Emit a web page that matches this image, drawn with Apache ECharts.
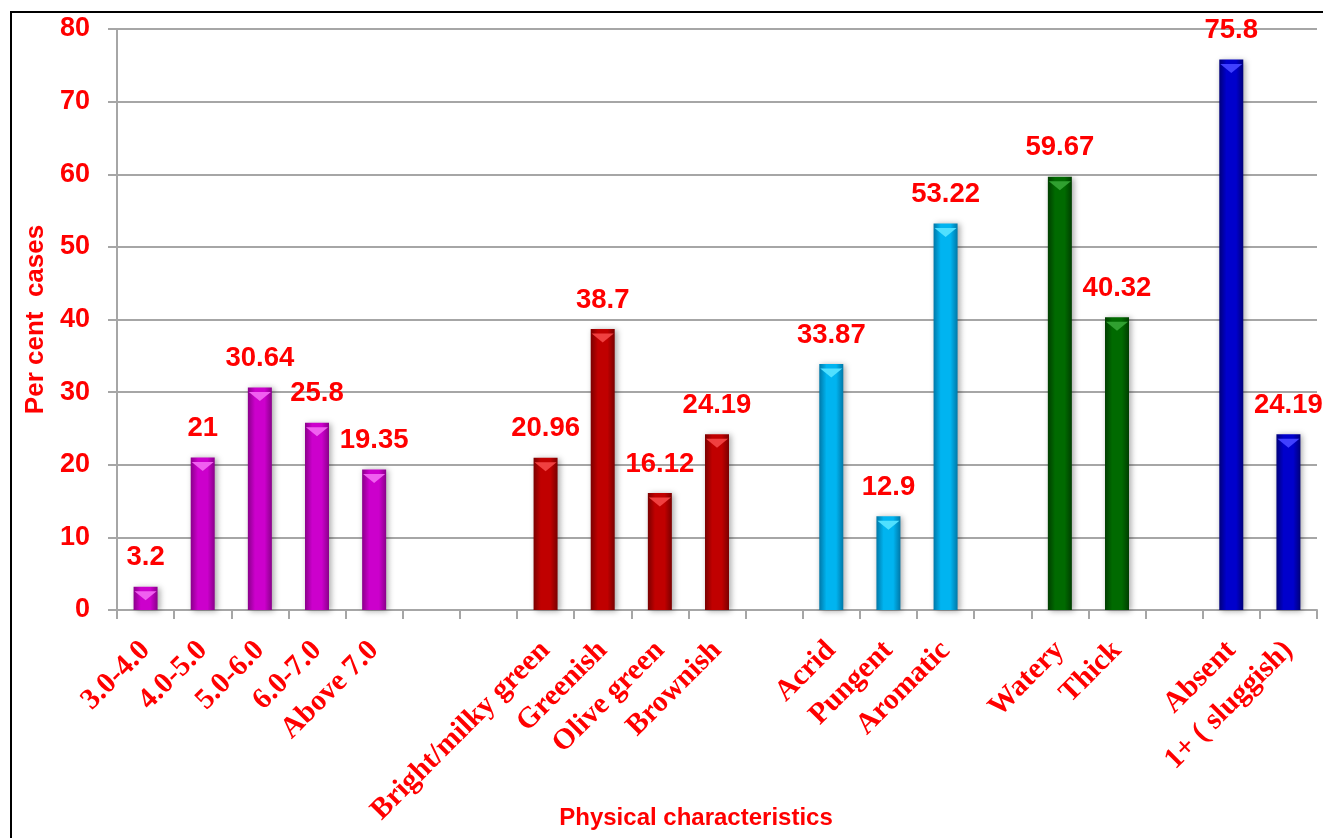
<!DOCTYPE html>
<html><head><meta charset="utf-8">
<script src="https://cdn.jsdelivr.net/npm/echarts@6/dist/echarts.min.js"></script>
<style>html,body{margin:0;padding:0;background:#fff}#c{width:1323px;height:838px}</style>
</head><body><div id="c"></div>
<script>
// Data
var phLabels = ['3.0-4.0', '4.0-5.0', '5.0-6.0', '6.0-7.0', 'Above 7.0'];
var phValues = [3.2, 21, 30.64, 25.8, 19.35];
var colourLabels = ['Bright/milky green', 'Greenish', 'Olive green', 'Brownish'];
var colourValues = [20.96, 38.7, 16.12, 24.19];
var odourLabels = ['Acrid', 'Pungent', 'Aromatic'];
var odourValues = [33.87, 12.9, 53.22];
var consistencyLabels = ['Watery', 'Thick'];
var consistencyValues = [59.67, 40.32];
var motilityLabels = ['Absent', '1+ ( sluggish)'];
var motilityValues = [75.8, 24.19];
var yTicks = [0, 10, 20, 30, 40, 50, 60, 70, 80];

var groups = [
  {labels: phLabels, values: phValues, color: '#CC00CC', edge: '#8A008A', light: '#F060F0', gap: 2},
  {labels: colourLabels, values: colourValues, color: '#C00000', edge: '#7A0000', light: '#F04040', gap: 1},
  {labels: odourLabels, values: odourValues, color: '#00B4F0', edge: '#0078A8', light: '#50E0FF', gap: 1},
  {labels: consistencyLabels, values: consistencyValues, color: '#006A00', edge: '#003E00', light: '#30A030', gap: 1},
  {labels: motilityLabels, values: motilityValues, color: '#0000CC', edge: '#00007A', light: '#4040FF', gap: 0}
];

var categories = [], barData = [], capData = [];
var gapId = 0;
groups.forEach(function (g) {
  g.labels.forEach(function (lab, i) {
    categories.push(lab);
    barData.push({
      value: g.values[i],
      itemStyle: {
        color: {type: 'linear', x: 0, y: 0, x2: 1, y2: 0, colorStops: [
          {offset: 0, color: g.edge}, {offset: 0.3, color: g.color},
          {offset: 0.7, color: g.color}, {offset: 1, color: g.edge}]}
      }
    });
    capData.push({value: g.values[i], itemStyle: {color: g.light}});
  });
  for (var k = 0; k < g.gap; k++) {
    gapId++;
    categories.push(new Array(gapId + 1).join(' '));
    barData.push(null);
    capData.push(null);
  }
});

var RED = '#FF0000';
var chart = echarts.init(document.getElementById('c'), null, {renderer: 'canvas'});
chart.setOption({
  animation: false,
  backgroundColor: '#fff',
  grid: {left: 117, right: 6, top: 29, bottom: 228, containLabel: false},
  xAxis: {
    type: 'category',
    data: categories,
    axisLine: {lineStyle: {color: '#A6A6A6', width: 2}},
    axisTick: {show: true, length: 9, lineStyle: {color: '#A6A6A6', width: 2}},
    axisLabel: {
      interval: 0, rotate: 45, margin: 36,
      color: RED, fontFamily: 'Liberation Serif', fontWeight: 'bold', fontSize: 29.5
    },
    splitLine: {show: false}
  },
  yAxis: {
    type: 'value', min: yTicks[0], max: yTicks[yTicks.length - 1], interval: 10,
    axisLine: {show: true, lineStyle: {color: '#A6A6A6', width: 2}},
    axisTick: {show: true, length: 9, lineStyle: {color: '#A6A6A6', width: 2}},
    axisLabel: {margin: 27, color: RED, fontFamily: 'Liberation Sans', fontWeight: 'bold', fontSize: 27},
    splitLine: {lineStyle: {color: '#A6A6A6', width: 2}},
    name: 'Per cent  cases', nameLocation: 'middle', nameGap: 68, nameRotate: 90,
    nameTextStyle: {color: RED, fontFamily: 'Liberation Sans', fontWeight: 'bold', fontSize: 26}
  },
  series: [
    {
      type: 'bar', data: barData, barWidth: 24,
      itemStyle: {shadowColor: 'rgba(0,0,0,0.35)', shadowBlur: 6, shadowOffsetX: 2, shadowOffsetY: 1},
      label: {
        show: true, position: 'top', distance: 15,
        color: RED, fontFamily: 'Liberation Sans', fontWeight: 'bold', fontSize: 27.5
      },
      z: 2
    },
    {
      type: 'pictorialBar', data: capData, symbol: 'triangle', symbolRotate: 180,
      symbolSize: [22, 9], symbolPosition: 'end', symbolOffset: [0, '50%'],
      barGap: '-100%', z: 3, silent: true, label: {show: false}
    }
  ],
  graphic: [
    {type: 'rect', shape: {x: 11, y: 12, width: 1400, height: 900},
     style: {fill: 'none', stroke: '#000', lineWidth: 2}, z: 100},
    {type: 'text', x: 696, y: 806, z: 100,
     style: {text: 'Physical characteristics', fill: RED, font: 'bold 24px "Liberation Sans"', textAlign: 'center'}}
  ]
});
</script>
</body></html>
